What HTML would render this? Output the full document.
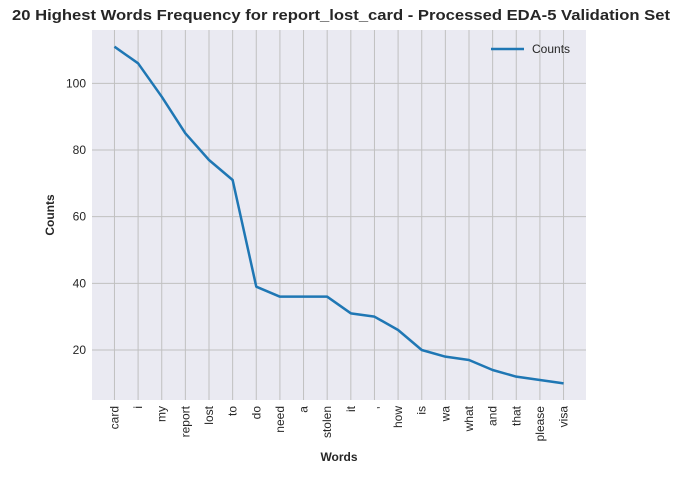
<!DOCTYPE html>
<html><head><meta charset="utf-8"><style>
body{margin:0;background:#fff;font-family:"Liberation Sans",Arial,sans-serif}
</style></head><body>
<svg id="chart" width="679" height="475" xmlns="http://www.w3.org/2000/svg" font-family="Liberation Sans, Arial, sans-serif"></svg>
<script>
const words=["card","i","my","report","lost","to","do","need","a","stolen","it",",","how","is","wa","what","and","that","please","visa"];
const counts=[111,106,96,85,77,71,39,36,36,36,31,30,26,20,18,17,14,12,11,10];
const yTicks=[20,40,60,80,100];
const NS="http://www.w3.org/2000/svg";
const svg=document.getElementById('chart');
const L=92,R=586,T=30,B=400,yMin=5,yMax=116;
const span=R-L, inner=span/1.1, x0=L+span*0.05/1.1;
function xs(i){return x0+i*inner/(words.length-1);}
function ys(v){return B-(v-yMin)/(yMax-yMin)*(B-T);}
function el(t,a,txt){const e=document.createElementNS(NS,t);for(const k in a)e.setAttribute(k,a[k]);if(txt!==undefined)e.textContent=txt;svg.appendChild(e);return e;}
let bg=el('rect',{x:L,y:T,width:R-L,height:B-T,fill:'#eaeaf2'});


words.forEach((w,i)=>{
 const x=xs(i);
 let g=el('line',{x1:x,x2:x,y1:T,y2:B,stroke:'#c0c0c0','stroke-width':1});
 
 
 let t=el('text',{x:0,y:0,transform:`translate(${x+4},${B+6}) rotate(-90)`,'text-anchor':'end','font-size':12,fill:'#262626'},w);
 
 
});
yTicks.forEach(v=>{
 const y=ys(v);
 let g=el('line',{x1:L,x2:R,y1:y,y2:y,stroke:'#c0c0c0','stroke-width':1});
 
 
 let t=el('text',{x:L-6,y:y+4,'text-anchor':'end','font-size':12,fill:'#262626'},v);
 
 
});
let p=el('polyline',{points:counts.map((c,i)=>xs(i)+','+ys(c)).join(' '),fill:'none',stroke:'#1f77b4','stroke-width':2.5,'stroke-linejoin':'round'});


let ti=el('text',{x:12,y:20,'font-size':15,'font-weight':'bold',fill:'#262626',textLength:658,lengthAdjust:'spacingAndGlyphs'},'20 Highest Words Frequency for report_lost_card - Processed EDA-5 Validation Set');


let yl=el('text',{x:0,y:0,transform:'translate(54,215) rotate(-90)','text-anchor':'middle','font-size':12,'font-weight':'bold',fill:'#262626'},'Counts');


let xl=el('text',{x:339,y:461,'text-anchor':'middle','font-size':12,'font-weight':'bold',fill:'#262626'},'Words');


let ll=el('line',{x1:491,x2:524,y1:49,y2:49,stroke:'#1f77b4','stroke-width':2.5});


let lt=el('text',{x:532,y:53,'font-size':12,fill:'#262626'},'Counts');


</script>
</body></html>
